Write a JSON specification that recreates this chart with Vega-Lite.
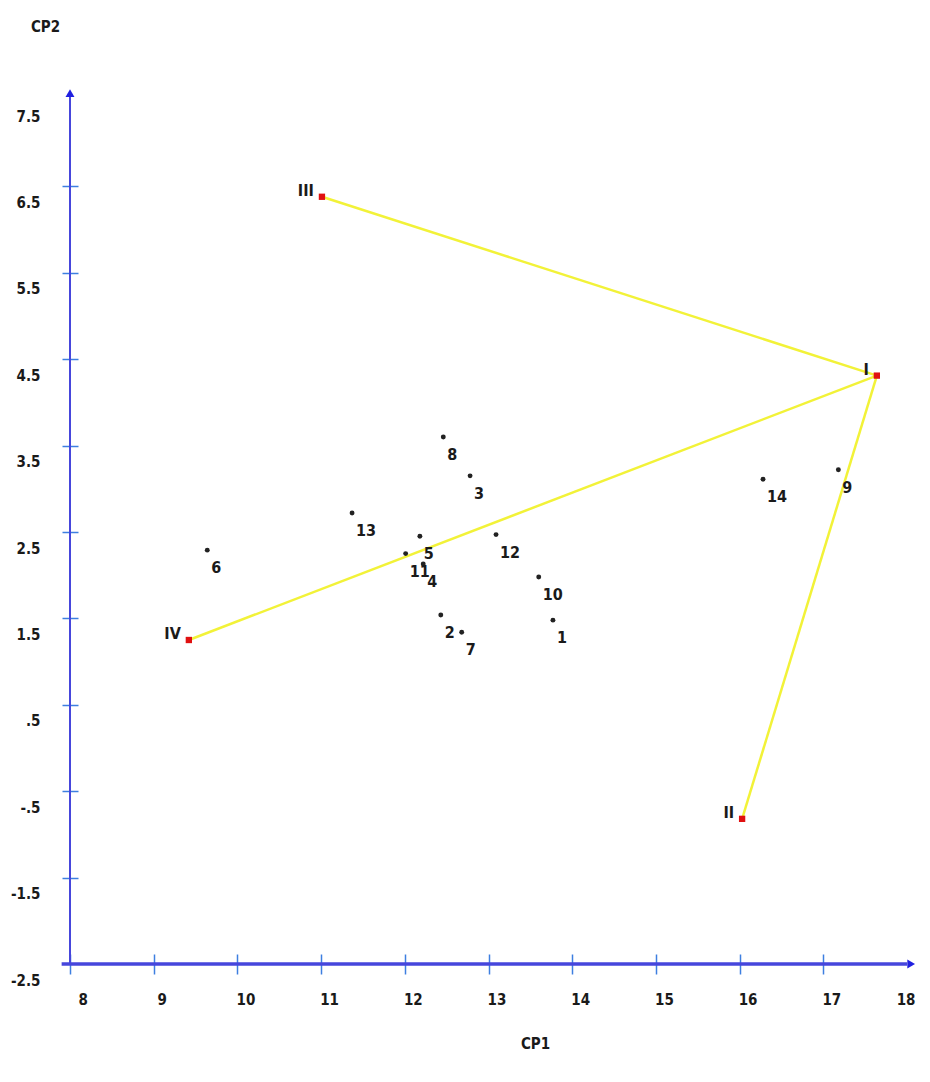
{
  "$schema": "https://vega.github.io/schema/vega-lite/v6.json",
  "width": 837,
  "height": 864,
  "autosize": {"type": "none"},
  "padding": {"left": 70, "top": 100, "right": 23, "bottom": 118},
  "background": "white",
  "config": {
    "view": {"stroke": null},
    "font": "DejaVu Sans Condensed, Liberation Sans, sans-serif",
    "axis": {"grid": false}
  },
  "datasets": {
    "one": [{"id": 1}],
    "pts": [
      {"label": "1", "x": 13.77, "y": 1.48},
      {"label": "2", "x": 12.43, "y": 1.54},
      {"label": "3", "x": 12.78, "y": 3.15},
      {"label": "4", "x": 12.22, "y": 2.13},
      {"label": "5", "x": 12.18, "y": 2.45},
      {"label": "6", "x": 9.64, "y": 2.29},
      {"label": "7", "x": 12.68, "y": 1.34},
      {"label": "8", "x": 12.46, "y": 3.6},
      {"label": "9", "x": 17.18, "y": 3.22},
      {"label": "10", "x": 13.6, "y": 1.98},
      {"label": "11", "x": 12.01, "y": 2.25},
      {"label": "12", "x": 13.09, "y": 2.47},
      {"label": "13", "x": 11.37, "y": 2.72},
      {"label": "14", "x": 16.28, "y": 3.11}
    ],
    "groups": [
      {"label": "I", "x": 17.64, "y": 4.31},
      {"label": "II", "x": 16.03, "y": -0.82},
      {"label": "III", "x": 11.01, "y": 6.38},
      {"label": "IV", "x": 9.42, "y": 1.25}
    ],
    "segs": [
      {"seg": "a", "ord": 1, "x": 11.01, "y": 6.38},
      {"seg": "a", "ord": 2, "x": 17.64, "y": 4.31},
      {"seg": "b", "ord": 1, "x": 17.64, "y": 4.31},
      {"seg": "b", "ord": 2, "x": 9.42, "y": 1.25},
      {"seg": "c", "ord": 1, "x": 17.64, "y": 4.31},
      {"seg": "c", "ord": 2, "x": 16.03, "y": -0.82}
    ]
  },
  "layer": [
    {
      "data": {"name": "pts"},
      "mark": {"type": "circle", "opacity": 0},
      "encoding": {
        "x": {
          "field": "x",
          "type": "quantitative",
          "scale": {"domain": [8, 18], "nice": false, "zero": false},
          "axis": {
            "values": [8, 9, 10, 11, 12, 13, 14, 15, 16, 17, 18],
            "format": ".0f",
            "domain": false,
            "offset": -10,
            "tickSize": 20,
            "tickWidth": 1.5,
            "tickColor": "#3d7fe0",
            "tickOpacity": {"condition": {"test": "datum.value == 18", "value": 0}, "value": 1},
            "labelPadding": 18,
            "labelOffset": 8,
            "labelFontWeight": "bold",
            "labelFontSize": 15,
            "labelColor": "#1a1a1a",
            "title": "CP1",
            "titleFontWeight": "bold",
            "titleFontSize": 15,
            "titleColor": "#1a1a1a",
            "titleX": 465,
            "titleY": 89,
            "titleBaseline": "middle",
            "titleAlign": "center"
          }
        },
        "y": {
          "field": "y",
          "type": "quantitative",
          "scale": {"domain": [-2.5, 7.5], "nice": false, "zero": false},
          "axis": {
            "values": [-2.5, -1.5, -0.5, 0.5, 1.5, 2.5, 3.5, 4.5, 5.5, 6.5, 7.5],
            "labelExpr": "(datum.value < 0 ? '-' : '') + (abs(datum.value) < 1 ? '.5' : format(abs(datum.value), '.1f'))",
            "domain": false,
            "offset": -8,
            "tickSize": 16,
            "tickWidth": 1.5,
            "tickColor": "#3d7fe0",
            "tickOpacity": {"condition": {"test": "datum.value == 7.5 || datum.value == -2.5", "value": 0}, "value": 1},
            "labelPadding": 22,
            "labelOffset": 16,
            "labelFontWeight": "bold",
            "labelFontSize": 15,
            "labelColor": "#1a1a1a",
            "title": "CP2",
            "titleFontWeight": "bold",
            "titleFontSize": 15,
            "titleColor": "#1a1a1a",
            "titleAngle": 0,
            "titleX": -33,
            "titleY": -74,
            "titleBaseline": "middle",
            "titleAlign": "center"
          }
        }
      }
    },
    {
      "data": {"name": "one"},
      "mark": {"type": "rule", "color": "#4646dc", "strokeWidth": 2},
      "encoding": {
        "x": {"datum": 8, "type": "quantitative", "scale": {"domain": [8, 18], "nice": false, "zero": false}},
        "y": {"datum": -2.5, "type": "quantitative", "scale": {"domain": [-2.5, 7.5], "nice": false, "zero": false}},
        "y2": {"datum": 7.56}
      }
    },
    {
      "data": {"name": "one"},
      "mark": {"type": "rule", "color": "#4646dc", "strokeWidth": 3.5},
      "encoding": {
        "x": {"datum": 7.9, "type": "quantitative", "scale": {"domain": [8, 18], "nice": false, "zero": false}},
        "x2": {"datum": 18.0},
        "y": {"datum": -2.5, "type": "quantitative", "scale": {"domain": [-2.5, 7.5], "nice": false, "zero": false}}
      }
    },
    {
      "data": {"name": "one"},
      "mark": {"type": "point", "shape": "triangle-up", "filled": true, "color": "#2020e0", "size": 80, "opacity": 1},
      "encoding": {
        "x": {"datum": 8, "type": "quantitative", "scale": {"domain": [8, 18], "nice": false, "zero": false}},
        "y": {"datum": 7.58, "type": "quantitative", "scale": {"domain": [-2.5, 7.5], "nice": false, "zero": false}}
      }
    },
    {
      "data": {"name": "one"},
      "mark": {"type": "point", "shape": "triangle-right", "filled": true, "color": "#2020e0", "size": 80, "opacity": 1},
      "encoding": {
        "x": {"datum": 18.05, "type": "quantitative", "scale": {"domain": [8, 18], "nice": false, "zero": false}},
        "y": {"datum": -2.5, "type": "quantitative", "scale": {"domain": [-2.5, 7.5], "nice": false, "zero": false}}
      }
    },
    {
      "data": {"name": "segs"},
      "mark": {"type": "line", "color": "#f2f238", "strokeWidth": 2.5},
      "encoding": {
        "x": {"field": "x", "type": "quantitative", "scale": {"domain": [8, 18], "nice": false, "zero": false}},
        "y": {"field": "y", "type": "quantitative", "scale": {"domain": [-2.5, 7.5], "nice": false, "zero": false}},
        "detail": {"field": "seg"},
        "order": {"field": "ord", "type": "quantitative"}
      }
    },
    {
      "data": {"name": "pts"},
      "mark": {"type": "circle", "color": "#222222", "size": 24, "opacity": 1},
      "encoding": {
        "x": {"field": "x", "type": "quantitative", "scale": {"domain": [8, 18], "nice": false, "zero": false}},
        "y": {"field": "y", "type": "quantitative", "scale": {"domain": [-2.5, 7.5], "nice": false, "zero": false}}
      }
    },
    {
      "data": {"name": "pts"},
      "mark": {"type": "text", "align": "left", "baseline": "middle", "dx": 4, "dy": 18, "fontWeight": "bold", "fontSize": 16, "color": "#1a1a1a"},
      "encoding": {
        "x": {"field": "x", "type": "quantitative", "scale": {"domain": [8, 18], "nice": false, "zero": false}},
        "y": {"field": "y", "type": "quantitative", "scale": {"domain": [-2.5, 7.5], "nice": false, "zero": false}},
        "text": {"field": "label"}
      }
    },
    {
      "data": {"name": "groups"},
      "mark": {"type": "square", "color": "#e01010", "size": 40, "opacity": 1},
      "encoding": {
        "x": {"field": "x", "type": "quantitative", "scale": {"domain": [8, 18], "nice": false, "zero": false}},
        "y": {"field": "y", "type": "quantitative", "scale": {"domain": [-2.5, 7.5], "nice": false, "zero": false}}
      }
    },
    {
      "data": {"name": "groups"},
      "mark": {"type": "text", "align": "right", "baseline": "middle", "dx": -8, "dy": -6, "fontWeight": "bold", "fontSize": 16, "color": "#1a1a1a"},
      "encoding": {
        "x": {"field": "x", "type": "quantitative", "scale": {"domain": [8, 18], "nice": false, "zero": false}},
        "y": {"field": "y", "type": "quantitative", "scale": {"domain": [-2.5, 7.5], "nice": false, "zero": false}},
        "text": {"field": "label"}
      }
    }
  ]
}
